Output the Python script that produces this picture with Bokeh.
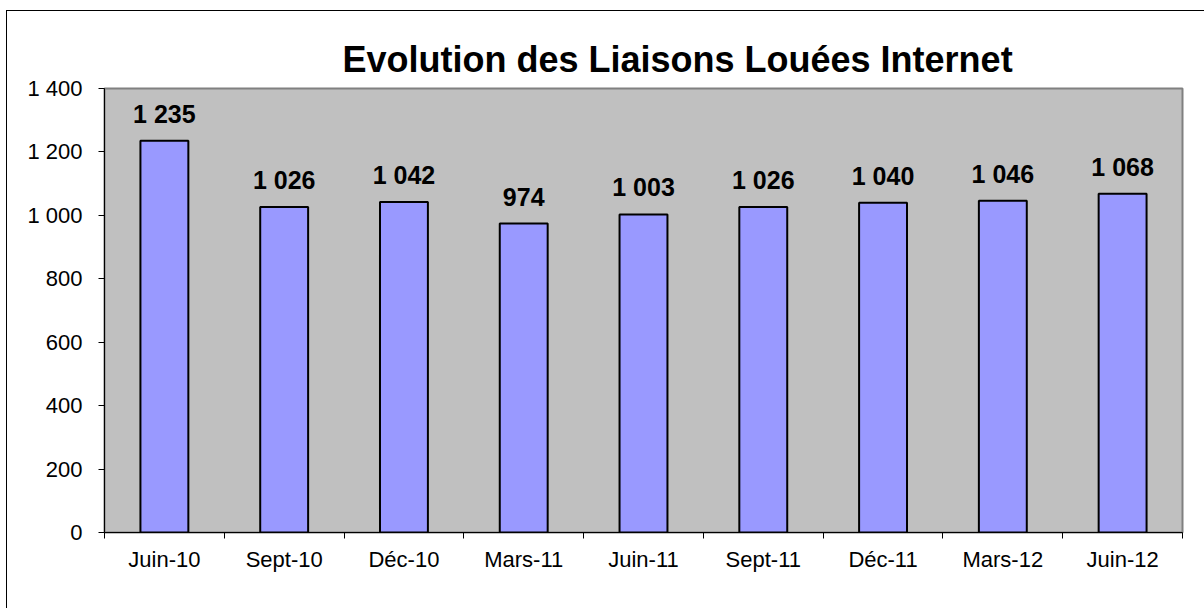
from bokeh.plotting import figure
from bokeh.models import ColumnDataSource, Range1d, FixedTicker, LabelSet
from bokeh.core.properties import value
from bokeh.embed import file_html
from bokeh.resources import INLINE

categories = ["Juin-10", "Sept-10", "Déc-10", "Mars-11", "Juin-11", "Sept-11", "Déc-11", "Mars-12", "Juin-12"]
values = [1235, 1026, 1042, 974, 1003, 1026, 1040, 1046, 1068]
y_ticks = [0, 200, 400, 600, 800, 1000, 1200, 1400]
title_text = "Evolution des Liaisons Louées Internet"


def fmt(v):
    return f"{v:,}".replace(",", " ")


xs = list(range(1, len(categories) + 1))
src = ColumnDataSource(dict(x=xs, top=values, label=[fmt(v) for v in values]))

p = figure(width=1198, height=598, output_backend="svg", toolbar_location=None,
           x_range=Range1d(0.5, len(categories) + 0.5), y_range=Range1d(0, 1400),
           min_border_left=97, min_border_right=23, min_border_top=77, min_border_bottom=77)

p.styles = {"margin-left": "6px", "margin-top": "10px",
            "border-left": "1px solid black", "border-top": "1px solid black"}

p.background_fill_color = "#C0C0C0"
p.border_fill_color = "white"
p.outline_line_color = "#808080"
p.outline_line_width = 2
p.xgrid.visible = False
p.ygrid.visible = False

p.vbar(x="x", top="top", width=0.4, bottom=0, source=src,
       fill_color="#9999FF", line_color="black", line_width=2)

labels = LabelSet(x="x", y="top", text="label", source=src, text_align="center",
                  text_baseline="alphabetic", y_offset=18,
                  text_font=value("Liberation Sans"), text_font_style="bold",
                  text_font_size="25px", text_color="black")
p.add_layout(labels)

p.title.text = title_text
p.title.text_font = "Liberation Sans"
p.title.text_font_size = "36px"
p.title.text_font_style = "bold"
p.title.text_color = "black"
p.title.align = "left"
p.title.offset = 238
p.title.standoff = 17

xa = p.xaxis[0]
xa.ticker = FixedTicker(ticks=xs, minor_ticks=[x + 0.5 for x in range(0, len(categories) + 1)])
xa.major_label_overrides = {x: c for x, c in zip(xs, categories)}
xa.major_tick_out = 0
xa.major_tick_in = 0
xa.minor_tick_out = 6
xa.minor_tick_in = 0
xa.minor_tick_line_color = "black"
xa.axis_line_color = "black"
xa.major_label_text_font = "Liberation Sans"
xa.major_label_text_font_size = "22px"
xa.major_label_text_color = "black"
xa.major_label_standoff = 8

ya = p.yaxis[0]
ya.ticker = FixedTicker(ticks=y_ticks, minor_ticks=[])
ya.major_label_overrides = {t: fmt(t) for t in y_ticks}
ya.major_tick_out = 6
ya.major_tick_in = 0
ya.major_tick_line_color = "black"
ya.minor_tick_line_color = None
ya.axis_line_color = "black"
ya.major_label_text_font = "Liberation Sans"
ya.major_label_text_font_size = "22px"
ya.major_label_text_color = "black"
ya.major_label_standoff = 16

open("out.html", "w").write(file_html(p, INLINE))
